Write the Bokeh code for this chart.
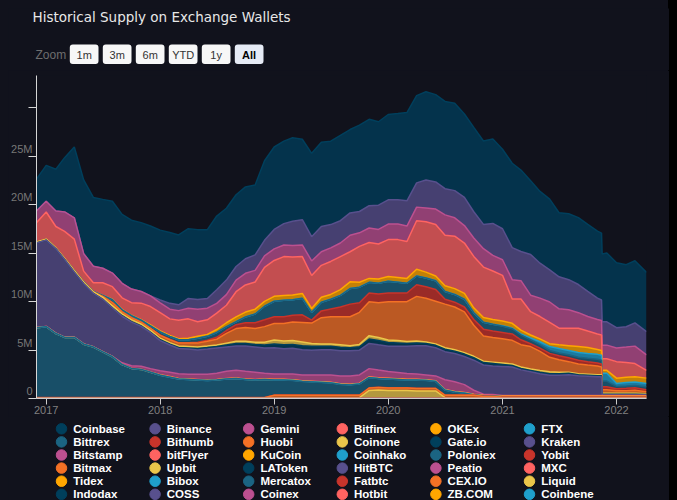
from datetime import datetime
from bokeh.plotting import figure
from bokeh.layouts import column
from bokeh.models import (ColumnDataSource, Range1d, FixedTicker, DatetimeTickFormatter)
from bokeh.transform import stack
from bokeh.core.properties import value
from bokeh.embed import file_html
from bokeh.resources import INLINE

# ---------------- data ----------------
title_text = "Historical Supply on Exchange Wallets"
zoom_label = "Zoom"
button_labels = ["1m", "3m", "6m", "YTD", "1y", "All"]
selected_button = "All"

dates = [
    "2016-12-01",
    "2017-01-01", "2017-02-01", "2017-03-01", "2017-04-01", "2017-05-01", "2017-06-01",
    "2017-07-01", "2017-08-01", "2017-09-01", "2017-10-01", "2017-11-01", "2017-12-01",
    "2018-01-01", "2018-02-01", "2018-03-01", "2018-04-01", "2018-05-01", "2018-06-01",
    "2018-07-01", "2018-08-01", "2018-09-01", "2018-10-01", "2018-11-01", "2018-12-01",
    "2019-01-01", "2019-02-01", "2019-03-01", "2019-04-01", "2019-05-01", "2019-06-01",
    "2019-07-01", "2019-08-01", "2019-09-01", "2019-10-01", "2019-11-01", "2019-12-01",
    "2020-01-01", "2020-02-01", "2020-03-01", "2020-04-01", "2020-05-01", "2020-06-01",
    "2020-07-01", "2020-08-01", "2020-09-01", "2020-10-01", "2020-11-01", "2020-12-01",
    "2021-01-01", "2021-02-01", "2021-03-01", "2021-04-01", "2021-05-01", "2021-06-01",
    "2021-07-01", "2021-08-01", "2021-09-01", "2021-10-01", "2021-11-01", "2021-11-14",
    "2021-11-16", "2021-12-01",
    "2022-01-01", "2022-02-01", "2022-03-01", "2022-04-07",
]
N = len(dates)

# values in millions
coinbase = [3.3, 3.7, 4.3, 5.6, 7.3, 7.6, 7.1, 7.1, 7.4, 7.1, 7.1, 7.1, 7.2,
            7.2, 7.3, 7.2, 7.2, 7.2, 7.1, 7.6, 7.4, 7.4, 7.4, 7.2, 8.2,
            8.5, 8.5, 8.6, 8.3, 8.6, 8.7, 8.6, 8.8, 8.6, 8.9, 8.9, 8.6,
            8.8, 8.9, 9.1, 9.0, 9.1, 9.0, 9.0, 9.0, 8.6, 8.7, 8.6, 8.7,
            8.2, 8.7, 8.4, 7.6, 7.4, 7.3, 6.6, 6.8, 6.9, 6.9, 6.9, 6.9, 7.0, 7.1,
            6.7, 6.4, 6.4, 6.1]
binance = [0, 0, 0, 0, 0, 0, 0, 0, 0, 0, 0, 0, 0,
           0.3, 0.6, 0.6, 1.0, 1.0, 1.0, 1.4, 1.5, 1.4, 1.5, 1.6, 1.6,
           2.0, 2.2, 2.5, 2.6, 2.5, 2.6, 2.4, 2.3, 2.3, 2.2, 2.3, 2.5,
           2.5, 2.5, 2.6, 2.5, 2.9, 2.8, 2.7, 2.8, 2.9, 2.7, 2.5, 3.3,
           3.2, 3.3, 3.0, 4.2, 3.6, 3.3, 3.3, 3.1, 2.9, 2.6, 2.2, 2.1, 2.4, 2.4,
           2.1, 2.1, 2.4, 2.4]
gemini = [1.2, 1.1, 1.6, 2.0, 2.2, 1.8, 1.7, 1.5, 1.4, 1.5, 1.4, 1.2, 1.1,
          1.0, 1.0, 1.0, 1.1, 1.3, 1.2, 1.0, 1.1, 1.2, 1.2, 1.2, 1.2,
          1.2, 1.2, 1.2, 1.2, 1.5, 1.4, 1.4, 1.4, 1.7, 1.4, 1.5, 1.5,
          1.6, 1.6, 1.6, 1.4, 1.4, 1.6, 2.1, 1.9, 1.8, 1.9, 1.9, 1.6,
          1.6, 2.0, 1.9, 1.7, 1.9, 2.1, 2.0, 1.9, 1.6, 1.5, 1.5, 1.5, 1.4, 1.4,
          1.4, 1.6, 1.8, 1.6]
bitfinex = [2.0, 2.8, 2.2, 2.8, 3.2, 1.1, 0.9, 1.3, 1.3, 1.2, 1.3, 1.7, 1.9,
            1.9, 1.7, 1.9, 2.0, 1.5, 1.5, 1.7, 1.8, 2.6, 2.8, 2.8, 3.5,
            3.7, 4.0, 3.9, 3.8, 3.4, 3.3, 3.4, 3.4, 3.1, 3.7, 3.7, 3.6,
            3.8, 3.9, 3.8, 5.0, 5.2, 5.3, 5.2, 5.4, 5.2, 5.3, 5.2, 5.0,
            4.7, 2.5, 3.2, 2.4, 2.3, 2.2, 1.7, 1.8, 1.9, 1.7, 1.6, 1.6, 1.2, 1.2,
            1.7, 1.5, 1.35, 0.8]
okex = [0, 0, 0, 0, 0, 0, 0, 0, 0.05, 0.05, 0.05, 0.05, 0.1,
        0.1, 0.1, 0.1, 0.15, 0.2, 0.2, 0.3, 0.4, 0.5, 0.5, 0.5, 0.5,
        0.5, 0.5, 0.5, 0.5, 0.4, 0.5, 0.5, 0.6, 0.7, 0.5, 0.4, 0.45,
        0.5, 0.5, 0.5, 0.7, 0.6, 0.5, 0.6, 0.6, 0.6, 0.5, 0.5, 0.5,
        0.5, 0.5, 0.4, 0.3, 0.3, 0.3, 0.4, 0.5, 0.6, 0.6, 0.5, 0.5, 0.3, 0.3,
        0.55, 0.55, 0.55, 0.55]
ftx = [0, 0, 0, 0, 0, 0, 0, 0, 0, 0, 0, 0, 0,
       0, 0, 0, 0, 0, 0, 0, 0, 0, 0, 0, 0,
       0, 0, 0, 0, 0, 0, 0, 0, 0, 0, 0, 0,
       0, 0, 0, 0, 0, 0, 0, 0, 0, 0, 0, 0,
       0.05, 0.05, 0.1, 0.2, 0.3, 0.4, 0.45, 0.45, 0.5, 0.5, 0.5, 0.5, 0.8, 0.8,
       0.3, 0.35, 0.35, 0.35]
bittrex = [0, 0, 0, 0, 0.05, 0.05, 0.05, 0.1, 0.3, 0.2, 0.2, 0.2, 0.25,
           0.3, 0.3, 0.3, 0.3, 0.4, 0.4, 0.5, 0.4, 0.3, 0.6, 0.9, 1.4,
           1.6, 1.7, 1.6, 1.7, 0.8, 0.9, 1.0, 1.2, 1.6, 1.6, 1.1, 1.1,
           1.2, 1.1, 1.0, 0.9, 0.9, 0.9, 0.8, 0.8, 0.8, 0.7, 0.7, 0.7,
           0.65, 0.55, 0.5, 0.4, 0.35, 0.3, 0.3, 0.3, 0.3, 0.35, 0.4, 0.4, 0.6, 0.6,
           0.25, 0.25, 0.25, 0.3]
bithumb = [0, 0, 0, 0, 0, 0, 0, 0, 0, 0, 0, 0, 0,
           0.05, 0.05, 0.05, 0.05, 0.1, 0.1, 0.2, 0.3, 0.4, 0.5, 0.6, 0.7,
           0.7, 0.7, 0.7, 0.8, 0.3, 0.7, 0.8, 1.0, 1.3, 1.0, 0.9, 0.9,
           0.9, 0.9, 0.9, 1.2, 1.2, 1.2, 0.5, 0.5, 0.5, 0.6, 0.7, 0.65,
           0.65, 0.65, 0.5, 0.3, 0.35, 0.4, 0.4, 0.4, 0.4, 0.35, 0.3, 0.3, 0.3, 0.3,
           0.2, 0.25, 0.25, 0.2]
huobi = [0, 0, 0, 0, 0, 0, 0, 0.1, 0.3, 0.2, 0.2, 0.2, 0.2,
         0.3, 0.3, 0.3, 0.35, 0.4, 0.5, 0.6, 1.0, 1.3, 1.4, 1.4, 1.6,
         1.7, 1.8, 1.9, 2.0, 2.1, 2.7, 2.8, 2.9, 3.0, 3.3, 3.5, 3.6,
         3.95, 4.0, 4.1, 4.6, 4.5, 4.4, 4.5, 4.4, 4.2, 3.2, 2.6, 2.55,
         2.5, 2.45, 2.3, 2.3, 1.95, 1.5, 1.3, 1.1, 1.0, 0.95, 0.9, 0.8, 0.35, 0.35,
         0.25, 0.25, 0.3, 0.2]
coinone = [0.1, 0.1, 0.1, 0.1, 0.15, 0.15, 0.15, 0.2, 0.25, 0.2, 0.2, 0.2, 0.2,
           0.15, 0.15, 0.15, 0.15, 0.15, 0.15, 0.15, 0.2, 0.25, 0.25, 0.25, 0.3,
           0.4, 0.4, 0.4, 0.4, 0.3, 0.25, 0.25, 0.25, 0.2, 0.25, 0.35, 0.3,
           0.25, 0.25, 0.2, 0.2, 0.15, 0.15, 0.15, 0.15, 0.15, 0.15, 0.15, 0.15,
           0.15, 0.15, 0.15, 0.15, 0.2, 0.2, 0.15, 0.1, 0.1, 0.1, 0.1, 0.1, 0.1, 0.1,
           0.1, 0.1, 0.1, 0.1]
gateio = [0, 0, 0, 0, 0, 0, 0, 0, 0, 0.05, 0.05, 0.05, 0.05,
          0.1, 0.1, 0.1, 0.1, 0.15, 0.15, 0.15, 0.2, 0.25, 0.25, 0.25, 0.3,
          0.4, 0.4, 0.4, 0.4, 0.4, 0.35, 0.35, 0.35, 0.3, 0.35, 0.45, 0.45,
          0.4, 0.35, 0.3, 0.3, 0.25, 0.25, 0.25, 0.25, 0.25, 0.25, 0.25, 0.25,
          0.2, 0.15, 0.15, 0.15, 0.15, 0.15, 0.15, 0.15, 0.1, 0.1, 0.1, 0.1, 0.1, 0.1,
          0.1, 0.1, 0.1, 0.05]
kraken = [8.7, 8.9, 8.7, 8.0, 6.7, 6.2, 5.5, 5.4, 5.0, 4.8, 4.5, 4.1, 3.7,
          3.1, 2.8, 2.6, 2.6, 2.5, 2.6, 2.6, 2.5, 2.5, 2.6, 2.6, 2.6,
          2.7, 2.6, 2.65, 2.6, 2.55, 2.6, 2.6, 2.6, 2.6, 2.55, 2.6, 2.6,
          2.6, 2.7, 2.8, 2.9, 3.0, 2.9, 2.9, 2.9, 2.9, 3.1, 3.0, 2.95,
          3.0, 2.95, 2.65, 2.45, 2.25, 2.1, 2.1, 2.15, 2.05, 2.0, 1.95, 1.95, 0.05, 0.05,
          0.05, 0.05, 0.05, 0.05]
bitstamp = [0, 0, 0, 0, 0, 0, 0, 0, 0, 0.15, 0.25, 0.3, 0.35,
            0.4, 0.45, 0.5, 0.5, 0.55, 0.6, 0.65, 0.75, 0.8, 0.8, 0.75, 0.6,
            0.55, 0.55, 0.6, 0.6, 0.65, 0.7, 0.75, 0.8, 0.85, 0.85, 0.85, 0.8,
            0.7, 0.65, 0.6, 0.55, 0.5, 0.5, 1.0, 1.0, 0.8, 0.4, 0.1, 0.08,
            0.05, 0.05, 0.05, 0.05, 0.05, 0.05, 0.05, 0.05, 0.05, 0.05, 0.05, 0.05, 0.05, 0.05,
            0.05, 0.05, 0.05, 0.05]
bitflyer = [0.03] * N
kucoin = [0.0] * 13 + [0.03] * (N - 13)
coinhako = [0.0] * 25 + [0.02] * (N - 25)
poloniex = [7.2, 7.3, 6.6, 6.2, 6.2, 5.5, 5.2, 4.7, 4.2, 3.4, 3.0, 2.9, 2.6,
            2.3, 2.1, 1.9, 1.85, 1.8, 1.75, 1.8, 1.9, 1.95, 1.85, 1.8, 1.85,
            1.55, 1.55, 1.5, 1.4, 1.35, 1.3, 1.25, 1.1, 1.05, 1.15, 1.05, 0.9,
            0.9, 0.85, 0.8, 0.85, 0.8, 0.7, 0.5, 0.3, 0.2, 0.02, 0.05, 0.02,
            0.02, 0.02, 0.02, 0.02, 0.02, 0.02, 0.02, 0.02, 0.02, 0.02, 0.02, 0.02, 0.02, 0.02,
            0.02, 0.02, 0.02, 0.02]
yobit = [0.02] * N
bitmax = [0.0] * 25 + [0.25] * 22 + [0.12, 0.12] + [0.05] * 18
upbit = [0.05] * 35 + [0.8, 0.85, 0.8, 0.8, 0.8, 0.75, 0.75, 0.75] + [0.05] * 24
latoken = [0.0] * N
hitbtc = [0.0] * N
peatio = [0.0] * N
mxc = [0.0] * N
tidex = [0.0] * N
bibox = [0.0] * N
mercatox = [0.0] * N
fatbtc = [0.0] * N
cexio = [0.0] * N
liquid = [0.0] * N
indodax = [0.0] * N
coss = [0.0] * N
coinex = [0.03] * N
hotbit = [0.0] * N
zbcom = [0.0] * N
coinbene = [0.0] * N

# series in legend (row-major) order; first series sits on top of the stack
series_names = ["Coinbase", "Binance", "Gemini", "Bitfinex", "OKEx", "FTX",
                "Bittrex", "Bithumb", "Huobi", "Coinone", "Gate.io", "Kraken",
                "Bitstamp", "bitFlyer", "KuCoin", "Coinhako", "Poloniex", "Yobit",
                "Bitmax", "Upbit", "LAToken", "HitBTC", "Peatio", "MXC",
                "Tidex", "Bibox", "Mercatox", "Fatbtc", "CEX.IO", "Liquid",
                "Indodax", "COSS", "Coinex", "Hotbit", "ZB.COM", "Coinbene"]
series_values = [coinbase, binance, gemini, bitfinex, okex, ftx,
                 bittrex, bithumb, huobi, coinone, gateio, kraken,
                 bitstamp, bitflyer, kucoin, coinhako, poloniex, yobit,
                 bitmax, upbit, latoken, hitbtc, peatio, mxc,
                 tidex, bibox, mercatox, fatbtc, cexio, liquid,
                 indodax, coss, coinex, hotbit, zbcom, coinbene]

y_ticks = [0, 5, 10, 15, 20, 25, 30]
y_tick_labels = ["0", "5M", "10M", "15M", "20M", "25M", ""]
x_tick_years = [2017, 2018, 2019, 2020, 2021, 2022]

for v in series_values:
    assert len(v) == N

# ---------------- style ----------------
BG = "#11121c"
W = 661
palette = ["#003f5c", "#58508d", "#bc5090", "#ff6361", "#ffa600",
           "#1f9fcb", "#1b6482", "#c8342b", "#f47125", "#ebc64a"]
colors = [palette[i % len(palette)] for i in range(len(series_names))]
FONT = "Liberation Sans"
LEG_COLS = 6

xs = [datetime.strptime(d, "%Y-%m-%d") for d in dates]
data = {"date": xs}
keys = []
for i, v in enumerate(series_values):
    k = "s%d" % i
    data[k] = v
    keys.append(k)
src = ColumnDataSource(data)


def plain_figure(height, xr, yr, **kw):
    f = figure(width=W, height=height, x_range=xr, y_range=yr,
               output_backend="svg", toolbar_location=None,
               x_axis_location=None, y_axis_location=None,
               min_border_left=0, min_border_right=0, min_border_top=0,
               min_border_bottom=0, background_fill_color=BG, border_fill_color=BG,
               outline_line_color=None, frame_align=False, **kw)
    f.grid.visible = False
    return f


# ---------------- header (title + zoom buttons) ----------------
HH = 62
h = plain_figure(HH, Range1d(0, W), Range1d(HH, 0))
h.text(x=[24], y=[8], text=[title_text], text_font=value("DejaVu Sans"),
       text_font_size="13.5px", text_color="#e8e8e8", text_baseline="middle")
h.text(x=[27], y=[46], text=[zoom_label], text_font=value(FONT),
       text_font_size="12px", text_color="#6e6e6e", text_baseline="middle")
bl = [61.3 + 33 * i for i in range(len(button_labels))]
br = [b + 28.7 for b in bl]
bsrc = ColumnDataSource(dict(
    left=bl, right=br, top=[36] * len(bl), bottom=[55.5] * len(bl),
    xc=[(a + b) / 2 for a, b in zip(bl, br)], yc=[46] * len(bl),
    label=button_labels,
    fill=["#e6ebf5" if b == selected_button else "#f7f7f7" for b in button_labels],
    style=["bold" if b == selected_button else "normal" for b in button_labels],
    tcol=["#000000" if b == selected_button else "#333333" for b in button_labels],
))
try:
    h.quad(left="left", right="right", top="top", bottom="bottom", source=bsrc,
           fill_color="fill", line_color=None, border_radius=3)
except Exception:
    h.quad(left="left", right="right", top="top", bottom="bottom", source=bsrc,
           fill_color="fill", line_color=None)
h.text(x="xc", y="yc", text="label", source=bsrc, text_font=value(FONT),
       text_font_size="11px", text_color="tcol", text_font_style="style",
       text_align="center", text_baseline="middle")

# ---------------- main chart ----------------
p = figure(width=W, height=346, x_axis_type="datetime",
           x_range=Range1d(xs[0], xs[-1]), y_range=Range1d(0, 33.3),
           output_backend="svg", toolbar_location=None, frame_align=False,
           min_border_left=28, min_border_right=23, min_border_top=5, min_border_bottom=0,
           background_fill_color=BG, border_fill_color=BG, outline_line_color=None)
p.grid.visible = False

bottom_up = keys[::-1]
p.varea_stack(stackers=bottom_up, x="date", fill_color=colors[::-1],
              fill_alpha=0.75, source=src)
for i in range(len(keys)):
    if max(series_values[i]) <= 0:
        continue
    p.line(x="date", y=stack(*keys[i:]), source=src, line_color=colors[i],
           line_width=1.5)

ya = p.yaxis[0]
ya.ticker = FixedTicker(ticks=y_ticks)
# labels sit just above their tick line, as in the original
ya.major_label_overrides = {t: (s + "\n" if s else s) for t, s in zip(y_ticks, y_tick_labels)}
ya.axis_line_color = "#d6d6d6"
ya.major_tick_line_color = "#d6d6d6"
ya.major_tick_out = 8
ya.major_tick_in = 0
ya.minor_tick_line_color = None
try:
    ya.major_label_standoff = -4
except Exception:
    ya.major_tick_out = 5
    ya.major_label_standoff = 2
ya.major_label_text_color = "#777777"
ya.major_label_text_font = FONT
ya.major_label_text_font_size = "11px"

epoch = datetime(1970, 1, 1)
xa = p.xaxis[0]
xa.ticker = FixedTicker(ticks=[(datetime(y, 1, 1) - epoch).total_seconds() * 1000
                               for y in x_tick_years])
xa.formatter = DatetimeTickFormatter(years="%Y", months="%Y", days="%Y",
                                     hours="%Y", minutes="%Y")
xa.axis_line_color = "#cccccc"
xa.major_tick_line_color = "#cccccc"
xa.major_tick_out = 6
xa.major_tick_in = 0
xa.minor_tick_line_color = None
xa.major_label_standoff = 1
xa.major_label_text_color = "#808080"
xa.major_label_text_font = FONT
xa.major_label_text_font_size = "11px"

# ---------------- legend (6 columns, row-major) ----------------
LH = 84
lg = plain_figure(LH, Range1d(0, W), Range1d(LH, 0))
lsrc = ColumnDataSource(dict(
    cx=[53 + 93.6 * (i % LEG_COLS) for i in range(len(series_names))],
    cy=[12.3 + 13.1 * (i // LEG_COLS) for i in range(len(series_names))],
    tx=[64.7 + 93.6 * (i % LEG_COLS) for i in range(len(series_names))],
    label=series_names, color=colors,
))
lg.scatter(x="cx", y="cy", source=lsrc, marker="circle", size=10.5,
           fill_color="color", line_color="color")
lg.text(x="tx", y="cy", text="label", source=lsrc, text_font=value(FONT),
        text_font_size="11.5px", text_font_style="bold", text_color="#ffffff",
        text_baseline="middle")

layout = column(h, p, lg, spacing=0)

html = file_html(layout, INLINE, title=title_text)
style = ("<style>html {background: linear-gradient(to right, %s 668px, #000000 668px);}"
         " body {background: transparent; margin: 8px;}</style></head>" % BG)
html = html.replace("</head>", style, 1)
open("out.html", "w").write(html)
